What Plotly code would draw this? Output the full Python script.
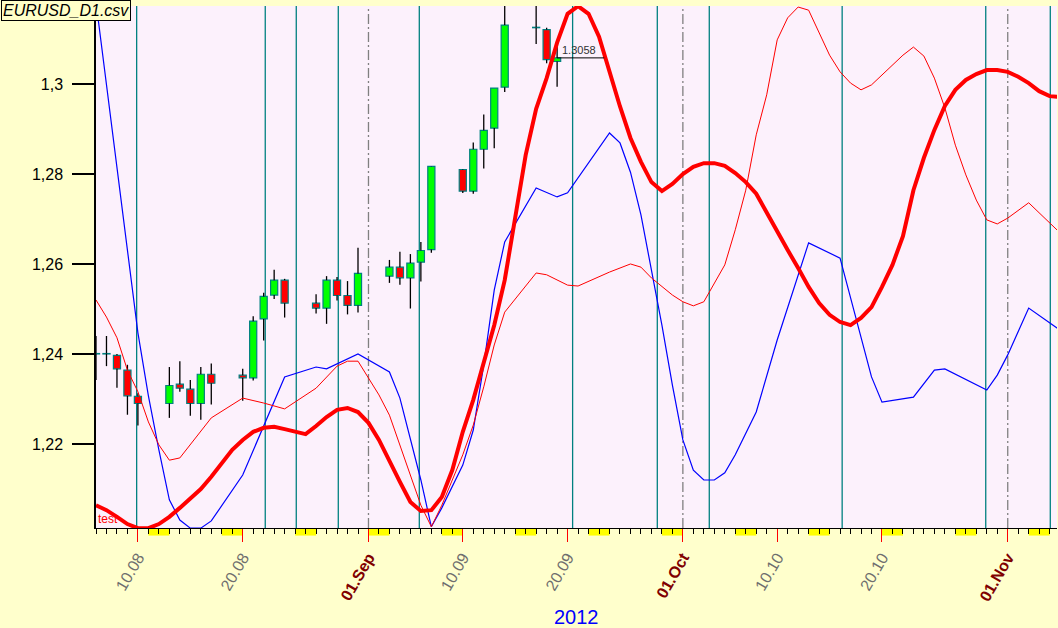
import pandas as pd
import plotly.graph_objects as go

# EURUSD daily candles (Aug-Sep 2012) with three indicator lines running ahead to November.
START = pd.Timestamp('2012-08-06')
END_DAYS = 91.7

CANDLE_DATES = ['2012-08-06', '2012-08-07', '2012-08-08', '2012-08-09', '2012-08-10',
                '2012-08-13', '2012-08-14', '2012-08-15', '2012-08-16', '2012-08-17',
                '2012-08-20', '2012-08-21', '2012-08-22', '2012-08-23', '2012-08-24',
                '2012-08-27', '2012-08-28', '2012-08-29', '2012-08-30', '2012-08-31',
                '2012-09-03', '2012-09-04', '2012-09-05', '2012-09-06', '2012-09-07',
                '2012-09-10', '2012-09-11', '2012-09-12', '2012-09-13', '2012-09-14',
                '2012-09-17', '2012-09-18', '2012-09-19']
OPEN = [1.2400, 1.2400, 1.2397, 1.2364, 1.2306,
        1.2290, 1.2333, 1.2322, 1.2290, 1.2355,
        1.2353, 1.2347, 1.2478, 1.2531, 1.2564,
        1.2513, 1.2502, 1.2564, 1.2530, 1.2508,
        1.2573, 1.2593, 1.2569, 1.2604, 1.2632,
        1.2810, 1.2762, 1.2855, 1.2902, 1.2993,
        1.3125, 1.3121, 1.3050]
HIGH = [1.2440, 1.2440, 1.2400, 1.2376, 1.2313,
        1.2371, 1.2384, 1.2342, 1.2371, 1.2379,
        1.2367, 1.2484, 1.2536, 1.2587, 1.2567,
        1.2533, 1.2573, 1.2571, 1.2562, 1.2636,
        1.2609, 1.2627, 1.2622, 1.2649, 1.2818,
        1.2811, 1.2870, 1.2932, 1.2991, 1.3180,
        1.3180, 1.3125, 1.3083]
LOW = [1.2342, 1.2373, 1.2325, 1.2265, 1.2241,
       1.2258, 1.2316, 1.2263, 1.2254, 1.2288,
       1.2296, 1.2341, 1.2430, 1.2522, 1.2481,
       1.2490, 1.2467, 1.2519, 1.2488, 1.2492,
       1.2558, 1.2554, 1.2501, 1.2561, 1.2625,
       1.2758, 1.2756, 1.2812, 1.2857, 1.2982,
       1.3089, 1.3046, 1.2994]
CLOSE = [1.2401, 1.2401, 1.2367, 1.2307, 1.2290,
         1.2330, 1.2324, 1.2290, 1.2355, 1.2335,
         1.2347, 1.2473, 1.2528, 1.2564, 1.2513,
         1.2502, 1.2564, 1.2530, 1.2508, 1.2579,
         1.2593, 1.2569, 1.2602, 1.2630, 1.2817,
         1.2762, 1.2855, 1.2897, 1.2991, 1.3131,
         1.3126, 1.3054, 1.3058]

# indicator lines: x given as days after START
BLUE_DAYS = [0, 4, 5, 6, 7, 8, 9, 10, 11, 14, 18, 21, 22, 25, 28, 29, 31, 32, 33, 35,
             36, 37, 38, 39, 42, 44, 45, 49, 50, 51, 52, 53, 54, 55, 56, 57, 58, 59,
             60, 61, 63, 65, 68, 71, 74, 75, 78, 80, 81, 85, 86, 87, 89, 92]
BLUE_VALS = [1.3182, 1.2447, 1.2307, 1.2187, 1.2076, 1.2031, 1.2013, 1.2013, 1.2029,
             1.2131, 1.2349, 1.2371, 1.2367, 1.2400, 1.2360, 1.2302, 1.2120, 1.2016,
             1.2058, 1.2153, 1.2231, 1.2376, 1.2542, 1.2649, 1.2769, 1.2749, 1.2758,
             1.2891, 1.2869, 1.2804, 1.2709, 1.2587, 1.2464, 1.2331, 1.2209, 1.2142,
             1.2120, 1.2120, 1.2136, 1.2176, 1.2271, 1.2431, 1.2647, 1.2613, 1.2349,
             1.2293, 1.2304, 1.2364, 1.2367, 1.2320, 1.2353, 1.2398, 1.2502, 1.2453]

THIN_DAYS = [0, 1, 2, 3, 4, 5, 6, 7, 8, 11, 14, 16, 18, 19, 21, 23, 24, 25, 27, 28,
             30, 31, 32, 33, 35, 36, 37, 38, 39, 42, 43, 45, 46, 49, 51, 52, 53, 55,
             56, 57, 58, 59, 60, 61, 62, 63, 64, 65, 66, 67, 68, 70, 71, 72, 73, 74,
             76, 77, 78, 79, 80, 81, 82, 83, 84, 85, 86, 87, 89, 92]
THIN_VALS = [1.2520, 1.2482, 1.2436, 1.2364, 1.2316, 1.2249, 1.2198, 1.2164, 1.2169,
             1.2258, 1.2302, 1.2291, 1.2278, 1.2293, 1.2324, 1.2373, 1.2384, 1.2384,
             1.2309, 1.2264, 1.2131, 1.2064, 1.2016, 1.2064, 1.2176, 1.2242, 1.2327,
             1.2420, 1.2493, 1.2580, 1.2576, 1.2553, 1.2551, 1.2582, 1.2600, 1.2593,
             1.2569, 1.2531, 1.2516, 1.2507, 1.2516, 1.2558, 1.2598, 1.2676, 1.2764,
             1.2887, 1.2976, 1.3098, 1.3147, 1.3171, 1.3164, 1.3064, 1.3027, 1.3002,
             1.2987, 1.2998, 1.3042, 1.3064, 1.3082, 1.3062, 1.3013, 1.2947, 1.2864,
             1.2798, 1.2742, 1.2698, 1.2689, 1.2702, 1.2736, 1.2669]

THICK_DAYS = list(range(93))
THICK_VALS = [1.2064, 1.2053, 1.2038, 1.2022, 1.2013, 1.2013, 1.2022, 1.2038, 1.2058, 1.2078,
              1.2100, 1.2127, 1.2156, 1.2187, 1.2209, 1.2227, 1.2236, 1.2238, 1.2233, 1.2227,
              1.2222, 1.2240, 1.2260, 1.2276, 1.2280, 1.2271, 1.2247, 1.2209, 1.2160, 1.2116,
              1.2071, 1.2051, 1.2053, 1.2082, 1.2142, 1.2227, 1.2298, 1.2382, 1.2464, 1.2564,
              1.2698, 1.2842, 1.2945, 1.3013, 1.3092, 1.3156, 1.3173, 1.3156, 1.3105, 1.3027,
              1.2950, 1.2880, 1.2827, 1.2782, 1.2762, 1.2778, 1.2800, 1.2816, 1.2824, 1.2824,
              1.2818, 1.2802, 1.2782, 1.2756, 1.2713, 1.2671, 1.2631, 1.2591, 1.2549, 1.2513,
              1.2487, 1.2471, 1.2464, 1.2480, 1.2504, 1.2549, 1.2598, 1.2662, 1.2764, 1.2836,
              1.2898, 1.2951, 1.2987, 1.3009, 1.3022, 1.3031, 1.3031, 1.3027, 1.3016, 1.3002,
              1.2984, 1.2973, 1.2971]

# vertical event markers (days after START) and month starts
EVENT_DAYS = [3.88, 16.15, 19.11, 23.12, 30.85, 45.48, 53.56, 58.52, 71.2, 84.9, 91.06]
MONTH_STARTS = ['2012-09-01', '2012-10-01', '2012-11-01']

X_TICKS = ['2012-08-10', '2012-08-20', '2012-09-01', '2012-09-10', '2012-09-20',
           '2012-10-01', '2012-10-10', '2012-10-20', '2012-11-01']
X_LABELS = ['10.08', '20.08', '01.Sep', '10.09', '20.09', '01.Oct', '10.10', '20.10', '01.Nov']
Y_TICKS = [1.22, 1.24, 1.26, 1.28, 1.30]
Y_RANGE = [1.20133, 1.31733]

FONT = 'Arial, Liberation Sans, sans-serif'


def to_dates(days):
    return [START + pd.Timedelta(days=d) for d in days]


dates = pd.to_datetime(CANDLE_DATES)
x_end = START + pd.Timedelta(days=END_DAYS)

# wicks split around the body so they don't cross it
wx, wy = [], []
for d, o, h, l, c in zip(dates, OPEN, HIGH, LOW, CLOSE):
    top, bot = max(o, c), min(o, c)
    wx += [d, d, None, d, d, None]
    wy += [h, top, None, bot, l, None]

fig = go.Figure()
fig.add_trace(go.Bar(
    x=dates,
    y=[abs(c - o) for o, c in zip(OPEN, CLOSE)],
    base=[min(o, c) for o, c in zip(OPEN, CLOSE)],
    width=0.68 * 86400000,
    marker=dict(color=['#00FF00' if c >= o else '#FF0000' for o, c in zip(OPEN, CLOSE)],
                line=dict(color='#008080', width=1.2)),
    hoverinfo='skip'))
fig.add_trace(go.Scatter(x=wx, y=wy, mode='lines', line=dict(color='black', width=1.3),
                         hoverinfo='skip'))
fig.add_trace(go.Scatter(x=to_dates(BLUE_DAYS), y=BLUE_VALS, mode='lines',
                         line=dict(color='#0000FF', width=1.2)))
fig.add_trace(go.Scatter(x=to_dates(THIN_DAYS), y=THIN_VALS, mode='lines',
                         line=dict(color='#FF0000', width=1)))
fig.add_trace(go.Scatter(x=to_dates(THICK_DAYS), y=THICK_VALS, mode='lines',
                         line=dict(color='#FF0000', width=4)))

shapes = []
for t in to_dates(EVENT_DAYS):
    shapes.append(dict(type='line', xref='x', yref='paper', x0=t, x1=t, y0=0, y1=1,
                       line=dict(color='#008080', width=1.3), layer='below'))
for m in MONTH_STARTS:
    shapes.append(dict(type='line', xref='x', yref='paper', x0=m, x1=m, y0=0, y1=1,
                       line=dict(color='#808080', width=1.3, dash='10px,3px,2px,3px'),
                       layer='below'))
# weekend marks under the date axis
for sat in pd.date_range(START, x_end, freq='W-SAT'):
    shapes.append(dict(type='rect', xref='x', yref='paper', x0=sat,
                       x1=min(sat + pd.Timedelta(days=2), x_end), y0=0, y1=-0.0145,
                       fillcolor='#FFFF00', line=dict(width=0), layer='below'))
# last price line
shapes.append(dict(type='line', xref='x', yref='y', x0=dates[-1],
                   x1=dates[-1] + pd.Timedelta(days=4.5), y0=CLOSE[-1], y1=CLOSE[-1],
                   line=dict(color='black', width=1)))

tick_text = []
for lab in X_LABELS:
    if lab[3:].isalpha():
        tick_text.append("<b><span style='color:#800000'>%s</span></b>" % lab)
    else:
        tick_text.append(lab)

fig.update_layout(
    width=1058, height=628,
    margin=dict(l=96, r=1, t=6, b=100),
    paper_bgcolor='#FFFFCC',
    plot_bgcolor='#FCF1FC',
    showlegend=False,
    font=dict(family=FONT, color='black'),
    shapes=shapes,
    xaxis=dict(
        type='date', range=[START, x_end], showgrid=False, zeroline=False,
        showline=True, linecolor='black', linewidth=1,
        tickmode='array', tickvals=X_TICKS, ticktext=tick_text, tickangle=-60,
        ticks='outside', ticklen=13, tickcolor='#FF0000', tickwidth=1,
        tickfont=dict(family=FONT, size=16, color='#6E6E6E'),
        minor=dict(tickmode='linear', tick0='2012-08-06', dtick=86400000,
                   ticks='outside', ticklen=5, tickcolor='black', tickwidth=1)),
    yaxis=dict(
        range=Y_RANGE, showgrid=False, zeroline=False,
        showline=True, linecolor='black', linewidth=1.5,
        tickmode='array', tickvals=Y_TICKS,
        ticktext=[('%g' % v).replace('.', ',') for v in Y_TICKS],
        ticks='outside', ticklen=22, tickcolor='black', tickwidth=1.5,
        ticklabelstandoff=6,
        tickfont=dict(family=FONT, size=16, color='black')),
    annotations=[
        dict(text='EURUSD_D1.csv', xref='paper', yref='paper', x=-0.0989, y=1.0115,
             xanchor='left', yanchor='top', showarrow=False,
             font=dict(family=FONT, size=16, color='black', style='italic'),
             bgcolor='#FFFFC8', bordercolor='black', borderwidth=1, borderpad=1),
        dict(text='test', xref='paper', yref='paper', x=0, y=0, xanchor='left',
             yanchor='bottom', showarrow=False, font=dict(family=FONT, size=12, color='#FF0000')),
        dict(text='2012', xref='paper', yref='paper', x=0.5, y=-0.1705, xanchor='center',
             yanchor='middle', showarrow=False, font=dict(family=FONT, size=20, color='#0000FF')),
        dict(text='%.4f' % CLOSE[-1], xref='x', yref='y',
             x=dates[-1] + pd.Timedelta(days=0.3), y=CLOSE[-1],
             xanchor='left', yanchor='bottom', showarrow=False,
             font=dict(family=FONT, size=11, color='#333333')),
    ],
)

fig.write_html("out.html", config={'displayModeBar': False},
               post_script="document.body.style.margin='0';document.body.style.overflow='hidden';")
